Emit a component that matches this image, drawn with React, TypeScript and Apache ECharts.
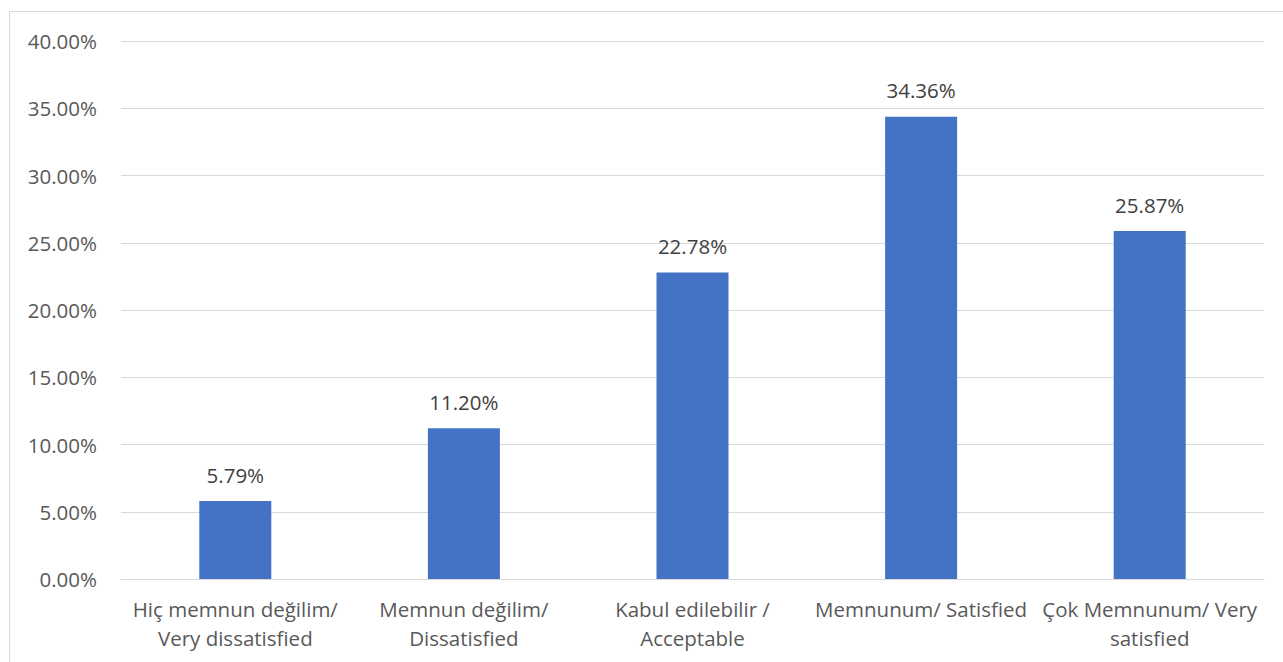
import React, { useEffect, useRef } from "react";
import * as echarts from "echarts";

const categories = [
  "Hiç memnun değilim/\nVery dissatisfied",
  "Memnun değilim/\nDissatisfied",
  "Kabul edilebilir /\nAcceptable",
  "Memnunum/ Satisfied",
  "Çok Memnunum/ Very\nsatisfied",
];
const values = [5.79, 11.2, 22.78, 34.36, 25.87];
const yTicks = { min: 0, max: 40, interval: 5 };

export default function App() {
  const ref = useRef<HTMLDivElement>(null);
  useEffect(() => {
    if (!ref.current) return;
    const chart = echarts.init(ref.current, undefined, { renderer: "svg" });
    const font = "'Open Sans', Calibri, sans-serif";
    chart.setOption({
      animation: false,
      textStyle: { fontFamily: font },
      grid: { left: 121, right: 19, top: 41, bottom: 83, containLabel: false },
      graphic: [
        {
          type: "rect",
          shape: { x: 9.5, y: 11.5, width: 1290, height: 670 },
          style: { fill: "none", stroke: "#d9d9d9", lineWidth: 1 },
          silent: true,
        },
      ],
      xAxis: {
        type: "category",
        data: categories,
        axisLine: { lineStyle: { color: "#d9d9d9", width: 1 } },
        axisTick: { show: false },
        axisLabel: {
          color: "#595959",
          fontSize: 20.5,
          fontFamily: font,
          lineHeight: 29,
          margin: 15,
          interval: 0,
        },
      },
      yAxis: {
        type: "value",
        min: yTicks.min,
        max: yTicks.max,
        interval: yTicks.interval,
        axisLine: { show: false },
        axisTick: { show: false },
        splitLine: { lineStyle: { color: "#d9d9d9", width: 1 } },
        axisLabel: {
          color: "#595959",
          fontSize: 20.5,
          fontFamily: font,
          margin: 24,
          formatter: (v: number) => v.toFixed(2) + "%",
        },
      },
      series: [
        {
          type: "bar",
          data: values,
          barWidth: 72,
          itemStyle: { color: "#4472c4" },
          label: {
            show: true,
            position: "top",
            distance: 16,
            color: "#404040",
            fontSize: 20.5,
            fontFamily: font,
            formatter: (p: any) => p.value.toFixed(2) + "%",
          },
        },
      ],
    });
    return () => chart.dispose();
  }, []);
  return (
    <div
      ref={ref}
      style={{ position: "fixed", left: 0, top: 0, width: 1283, height: 662, background: "#fff" }}
    />
  );
}
